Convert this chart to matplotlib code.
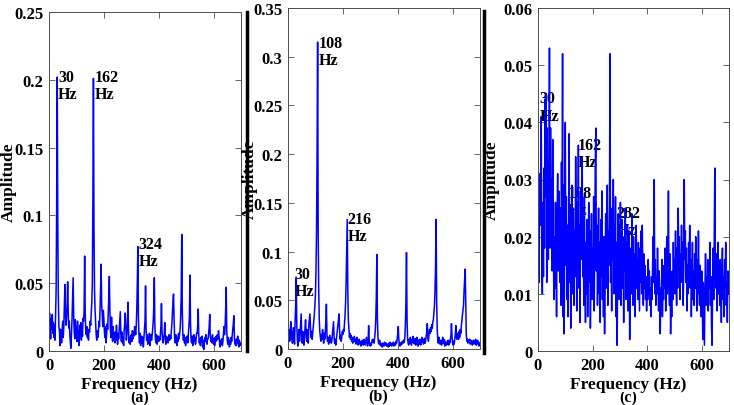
import numpy as np
import matplotlib
matplotlib.use("Agg")
import matplotlib.pyplot as plt
from matplotlib.lines import Line2D
from matplotlib.ticker import FormatStrFormatter

plt.rcParams['font.family'] = ['Liberation Serif', 'DejaVu Serif']
plt.rcParams['font.weight'] = 'bold'

# frequency grid (Hz), 2 Hz bins
freq = np.arange(0, 701, 2)

# (a) amplitude spectrum
amp_a = [
    0.012, 0.028, 0.018, 0.009, 0.024, 0.016, 0.027, 0.013, 0.021, 0.010,  # 0
    0.019, 0.008, 0.026, 0.045, 0.110, 0.202, 0.095, 0.040, 0.018, 0.015,  # 20
    0.004, 0.016, 0.012, 0.006, 0.015, 0.022, 0.010, 0.018, 0.035, 0.049,  # 40
    0.028, 0.019, 0.024, 0.033, 0.051, 0.030, 0.017, 0.022, 0.012, 0.006,  # 60
    0.002, 0.012, 0.024, 0.038, 0.054, 0.026, 0.014, 0.009, 0.023, 0.012,  # 80
    0.018, 0.007, 0.022, 0.010, 0.015, 0.004, 0.019, 0.012, 0.021, 0.008,  # 100
    0.016, 0.011, 0.024, 0.022, 0.030, 0.070, 0.028, 0.015, 0.012, 0.018,  # 120
    0.010, 0.013, 0.008, 0.016, 0.014, 0.022, 0.019, 0.028, 0.035, 0.050,  # 140
    0.110, 0.201, 0.090, 0.045, 0.030, 0.020, 0.012, 0.008, 0.015, 0.010,  # 160
    0.014, 0.022, 0.018, 0.030, 0.045, 0.064, 0.035, 0.026, 0.018, 0.030,  # 180
    0.024, 0.014, 0.010, 0.018, 0.006, 0.012, 0.020, 0.016, 0.028, 0.040,  # 200
    0.055, 0.030, 0.015, 0.010, 0.025, 0.013, 0.007, 0.018, 0.009, 0.012,  # 220
    0.006, 0.014, 0.008, 0.019, 0.011, 0.005, 0.013, 0.009, 0.016, 0.022,  # 240
    0.029, 0.012, 0.007, 0.014, 0.006, 0.010, 0.004, 0.015, 0.020, 0.028,  # 260
    0.018, 0.008, 0.012, 0.020, 0.036, 0.015, 0.006, 0.010, 0.005, 0.009,  # 280
    0.012, 0.007, 0.015, 0.009, 0.014, 0.011, 0.018, 0.016, 0.012, 0.018,  # 300
    0.030, 0.050, 0.077, 0.025, 0.012, 0.006, 0.013, 0.004, 0.009, 0.011,  # 320
    0.006, 0.010, 0.003, 0.009, 0.015, 0.022, 0.048, 0.016, 0.008, 0.012,  # 340
    0.005, 0.010, 0.007, 0.013, 0.004, 0.009, 0.012, 0.008, 0.012, 0.016,  # 360
    0.022, 0.032, 0.054, 0.018, 0.009, 0.006, 0.012, 0.005, 0.009, 0.011,  # 380
    0.007, 0.010, 0.008, 0.012, 0.018, 0.035, 0.015, 0.008, 0.006, 0.010,  # 400
    0.012, 0.021, 0.009, 0.005, 0.011, 0.007, 0.010, 0.006, 0.009, 0.012,  # 420
    0.008, 0.011, 0.009, 0.014, 0.020, 0.028, 0.036, 0.042, 0.024, 0.010,  # 440
    0.006, 0.012, 0.008, 0.004, 0.010, 0.007, 0.013, 0.009, 0.012, 0.016,  # 460
    0.025, 0.040, 0.086, 0.030, 0.012, 0.008, 0.012, 0.006, 0.010, 0.004,  # 480
    0.009, 0.007, 0.011, 0.006, 0.012, 0.018, 0.026, 0.056, 0.020, 0.008,  # 500
    0.006, 0.011, 0.004, 0.009, 0.012, 0.007, 0.010, 0.005, 0.008, 0.013,  # 520
    0.013, 0.018, 0.031, 0.012, 0.006, 0.009, 0.004, 0.010, 0.007, 0.011,  # 540
    0.003, 0.008, 0.001, 0.006, 0.010, 0.007, 0.012, 0.008, 0.005, 0.009,  # 560
    0.009, 0.013, 0.018, 0.027, 0.011, 0.007, 0.010, 0.006, 0.012, 0.008,  # 580
    0.005, 0.009, 0.004, 0.010, 0.007, 0.011, 0.008, 0.012, 0.009, 0.015,  # 600
    0.010, 0.006, 0.003, 0.008, 0.005, 0.009, 0.004, 0.007, 0.012, 0.018,  # 620
    0.012, 0.018, 0.030, 0.047, 0.015, 0.008, 0.005, 0.010, 0.006, 0.003,  # 640
    0.008, 0.005, 0.010, 0.007, 0.012, 0.016, 0.020, 0.026, 0.010, 0.005,  # 660
    0.008, 0.004, 0.009, 0.006, 0.011, 0.005, 0.003, 0.008, 0.004, 0.006,  # 680
    0.005,
]

# (b) amplitude spectrum
amp_b = [
    0.004, 0.012, 0.020, 0.008, 0.015, 0.028, 0.010, 0.018, 0.006, 0.014,  # 0
    0.022, 0.009, 0.005, 0.030, 0.045, 0.073, 0.025, 0.010, 0.003, 0.012,  # 20
    0.020, 0.008, 0.015, 0.026, 0.036, 0.014, 0.006, 0.018, 0.009, 0.004,  # 40
    0.012, 0.022, 0.030, 0.016, 0.008, 0.020, 0.012, 0.006, 0.025, 0.030,  # 60
    0.036, 0.022, 0.012, 0.018, 0.010, 0.016, 0.022, 0.028, 0.035, 0.045,  # 80
    0.055, 0.080, 0.120, 0.200, 0.315, 0.120, 0.060, 0.030, 0.018, 0.012,  # 100
    0.008, 0.015, 0.010, 0.020, 0.012, 0.006, 0.016, 0.010, 0.018, 0.028,  # 120
    0.046, 0.015, 0.008, 0.012, 0.005, 0.010, 0.014, 0.007, 0.011, 0.006,  # 140
    0.009, 0.015, 0.020, 0.028, 0.012, 0.006, 0.010, 0.004, 0.009, 0.014,  # 160
    0.018, 0.024, 0.030, 0.036, 0.020, 0.010, 0.014, 0.008, 0.012, 0.018,  # 180
    0.015, 0.020, 0.018, 0.026, 0.035, 0.048, 0.070, 0.100, 0.133, 0.060,  # 200
    0.030, 0.020, 0.012, 0.016, 0.010, 0.014, 0.008, 0.012, 0.006, 0.010,  # 220
    0.007, 0.013, 0.008, 0.010, 0.005, 0.009, 0.012, 0.006, 0.004, 0.008,  # 240
    0.010, 0.005, 0.007, 0.003, 0.008, 0.006, 0.009, 0.004, 0.006, 0.010,  # 260
    0.006, 0.004, 0.008, 0.012, 0.007, 0.003, 0.006, 0.024, 0.008, 0.005,  # 280
    0.003, 0.006, 0.004, 0.008, 0.010, 0.007, 0.009, 0.006, 0.012, 0.018,  # 300
    0.030, 0.055, 0.097, 0.030, 0.012, 0.006, 0.005, 0.009, 0.004, 0.006,  # 320
    0.003, 0.005, 0.002, 0.006, 0.004, 0.003, 0.007, 0.005, 0.004, 0.006,  # 340
    0.003, 0.005, 0.004, 0.002, 0.006, 0.003, 0.007, 0.004, 0.006, 0.003,  # 360
    0.005, 0.004, 0.007, 0.003, 0.006, 0.005, 0.004, 0.008, 0.006, 0.010,  # 380
    0.015, 0.023, 0.010, 0.005, 0.003, 0.006, 0.004, 0.007, 0.005, 0.008,  # 400
    0.006, 0.009, 0.007, 0.012, 0.025, 0.050, 0.099, 0.030, 0.010, 0.006,  # 420
    0.004, 0.010, 0.006, 0.012, 0.008, 0.004, 0.010, 0.007, 0.013, 0.006,  # 440
    0.009, 0.005, 0.011, 0.004, 0.008, 0.012, 0.006, 0.003, 0.009, 0.005,  # 460
    0.010, 0.006, 0.004, 0.008, 0.012, 0.007, 0.010, 0.005, 0.008, 0.011,  # 480
    0.006, 0.009, 0.014, 0.018, 0.026, 0.012, 0.008, 0.015, 0.020, 0.016,  # 500
    0.022, 0.018, 0.025, 0.021, 0.028, 0.030, 0.038, 0.045, 0.060, 0.085,  # 520
    0.133, 0.050, 0.020, 0.010, 0.006, 0.012, 0.008, 0.005, 0.009, 0.006,  # 540
    0.004, 0.008, 0.012, 0.006, 0.010, 0.005, 0.003, 0.008, 0.006, 0.004,  # 560
    0.007, 0.005, 0.009, 0.004, 0.008, 0.006, 0.010, 0.014, 0.026, 0.012,  # 580
    0.006, 0.004, 0.008, 0.005, 0.010, 0.015, 0.024, 0.012, 0.010, 0.016,  # 600
    0.014, 0.010, 0.018, 0.012, 0.020, 0.016, 0.024, 0.030, 0.035, 0.040,  # 620
    0.045, 0.060, 0.070, 0.082, 0.045, 0.015, 0.008, 0.010, 0.006, 0.009,  # 640
    0.007, 0.010, 0.005, 0.009, 0.006, 0.008, 0.004, 0.007, 0.009, 0.005,  # 660
    0.008, 0.006, 0.010, 0.004, 0.007, 0.009, 0.005, 0.008, 0.003, 0.006,  # 680
    0.004,
]

# (c) amplitude spectrum
amp_c = [
    0.018, 0.024, 0.012, 0.031, 0.022, 0.028, 0.041, 0.015, 0.010, 0.026,  # 0
    0.013, 0.032, 0.018, 0.044, 0.027, 0.045, 0.012, 0.039, 0.021, 0.016,  # 20
    0.028, 0.053, 0.018, 0.039, 0.022, 0.030, 0.014, 0.037, 0.025, 0.009,  # 40
    0.020, 0.011, 0.026, 0.017, 0.006, 0.024, 0.031, 0.014, 0.028, 0.019,  # 60
    0.012, 0.025, 0.008, 0.033, 0.018, 0.052, 0.006, 0.029, 0.003, 0.022,  # 80
    0.040, 0.015, 0.027, 0.009, 0.022, 0.006, 0.018, 0.038, 0.012, 0.024,  # 100
    0.004, 0.020, 0.029, 0.010, 0.017, 0.025, 0.008, 0.021, 0.013, 0.034,  # 120
    0.019, 0.007, 0.026, 0.015, 0.036, 0.011, 0.022, 0.005, 0.028, 0.016,  # 140
    0.024, 0.034, 0.013, 0.020, 0.008, 0.027, 0.014, 0.005, 0.019, 0.010,  # 160
    0.023, 0.006, 0.017, 0.026, 0.012, 0.021, 0.004, 0.015, 0.024, 0.009,  # 180
    0.018, 0.011, 0.027, 0.007, 0.020, 0.033, 0.039, 0.014, 0.022, 0.008,  # 200
    0.016, 0.025, 0.010, 0.019, 0.005, 0.023, 0.013, 0.028, 0.009, 0.017,  # 220
    0.006, 0.020, 0.003, 0.014, 0.024, 0.011, 0.018, 0.029, 0.008, 0.021,  # 240
    0.015, 0.026, 0.052, 0.012, 0.020, 0.007, 0.025, 0.016, 0.030, 0.010,  # 260
    0.022, 0.013, 0.027, 0.006, 0.019, 0.001, 0.016, 0.024, 0.009, 0.021,  # 280
    0.012, 0.026, 0.008, 0.018, 0.023, 0.011, 0.017, 0.005, 0.020, 0.014,  # 300
    0.025, 0.009, 0.019, 0.013, 0.022, 0.007, 0.016, 0.021, 0.002, 0.012,  # 320
    0.018, 0.010, 0.024, 0.014, 0.008, 0.020, 0.012, 0.017, 0.006, 0.015,  # 340
    0.022, 0.011, 0.016, 0.009, 0.019, 0.013, 0.007, 0.018, 0.012, 0.021,  # 360
    0.010, 0.022, 0.014, 0.008, 0.017, 0.011, 0.015, 0.009, 0.013, 0.007,  # 380
    0.012, 0.009, 0.016, 0.010, 0.014, 0.008, 0.011, 0.006, 0.013, 0.009,  # 400
    0.015, 0.020, 0.012, 0.030, 0.010, 0.016, 0.008, 0.013, 0.010, 0.018,  # 420
    0.012, 0.007, 0.014, 0.010, 0.003, 0.011, 0.008, 0.016, 0.006, 0.012,  # 440
    0.009, 0.015, 0.011, 0.018, 0.007, 0.013, 0.020, 0.010, 0.016, 0.028,  # 460
    0.012, 0.008, 0.017, 0.003, 0.011, 0.006, 0.014, 0.009, 0.019, 0.012,  # 480
    0.016, 0.010, 0.021, 0.013, 0.008, 0.018, 0.011, 0.025, 0.014, 0.020,  # 500
    0.009, 0.017, 0.012, 0.022, 0.015, 0.019, 0.008, 0.014, 0.030, 0.016,  # 520
    0.021, 0.012, 0.018, 0.007, 0.015, 0.010, 0.019, 0.013, 0.022, 0.011,  # 540
    0.016, 0.006, 0.013, 0.019, 0.009, 0.014, 0.008, 0.017, 0.011, 0.020,  # 560
    0.013, 0.007, 0.016, 0.010, 0.021, 0.012, 0.008, 0.015, 0.011, 0.006,  # 580
    0.014, 0.009, 0.002, 0.012, 0.007, 0.001, 0.011, 0.017, 0.008, 0.013,  # 600
    0.010, 0.016, 0.007, 0.014, 0.011, 0.019, 0.008, 0.013, 0.004, 0.001,  # 620
    0.012, 0.018, 0.009, 0.020, 0.032, 0.015, 0.011, 0.017, 0.007, 0.013,  # 640
    0.019, 0.010, 0.015, 0.008, 0.016, 0.012, 0.005, 0.014, 0.018, 0.009,  # 660
    0.013, 0.006, 0.016, 0.011, 0.019, 0.008, 0.012, 0.005, 0.014, 0.010,  # 680
    0.012,
]

# peak labels: (text, x, top y)
notes_a = [("30\nHz", 33, 0.208), ("162\nHz", 168, 0.208), ("324\nHz", 327, 0.085)]
notes_b = [("108\nHz", 112, 0.322), ("216\nHz", 216, 0.142), ("30\nHz", 24, 0.0855)]
notes_c = [("30\nHz", 6, 0.0456), ("162\nHz", 147, 0.0375),
           ("108\nHz", 110, 0.029), ("282\nHz", 289, 0.0255)]

panels = [
    (amp_a, notes_a, 0.25, np.arange(0, 0.26, 0.05), "(a)",
     [49, 13, 241, 352], -0.165),
    (amp_b, notes_b, 0.35, np.arange(0, 0.36, 0.05), "(b)",
     [288, 9, 480, 350], -0.157),
    (amp_c, notes_c, 0.06, np.arange(0, 0.061, 0.01), "(c)",
     [538, 9, 729, 352], -0.199),
]

W, H = 734, 406
fig = plt.figure(figsize=(W / 100, H / 100), dpi=100)

for amp, notes, ymax, yt, tag, box, ylx in panels:
    x0, y0, x1, y1 = box
    ax = fig.add_axes([x0 / W, 1 - y1 / H, (x1 - x0) / W, (y1 - y0) / H])
    ax.plot(freq, amp, color='#0000ff', lw=1.1, zorder=2)
    ax.set_xlim(0, 700)
    ax.set_ylim(0, ymax)
    ax.set_xticks([0, 200, 400, 600])
    ax.set_yticks(yt)
    ax.yaxis.set_major_formatter(FormatStrFormatter('%g'))
    ax.tick_params(direction='in', top=True, right=True, length=4,
                   width=0.6, color='0.3', labelsize=12, pad=4)
    for lab in ax.get_xticklabels() + ax.get_yticklabels():
        lab.set_fontweight('bold')
    for s in ax.spines.values():
        s.set_linewidth(0.7)
        s.set_color('0.3')
    for txt, fx, fy in notes:
        ax.text(fx, fy, txt, fontsize=11.5, fontweight='bold', ha='left',
                va='top', linespacing=1.1, zorder=1)
    ax.set_ylabel("Amplitude", fontsize=12.5, fontweight='bold')
    ax.yaxis.set_label_coords(ylx, 0.5)
    ax.set_xlabel("Frequency (Hz)", fontsize=12.5, fontweight='bold',
                  bbox=dict(facecolor='white', edgecolor='none', pad=0))
    ax.xaxis.set_label_coords(0.47, -0.074)
    ax.text(0.47, -0.136, tag, transform=ax.transAxes, fontsize=11.5,
            fontweight='bold', ha='center', va='center', clip_on=False,
            zorder=1)

# thick separators between the panels
fig.add_artist(Line2D([247 / W] * 2, [1 - 13 / H, 1 - 352 / H],
                      color='black', lw=2.5))
fig.add_artist(Line2D([484 / W] * 2, [1 - 12 / H, 1 - 354 / H],
                      color='black', lw=2.5))

fig.savefig("out.png", dpi=100)
